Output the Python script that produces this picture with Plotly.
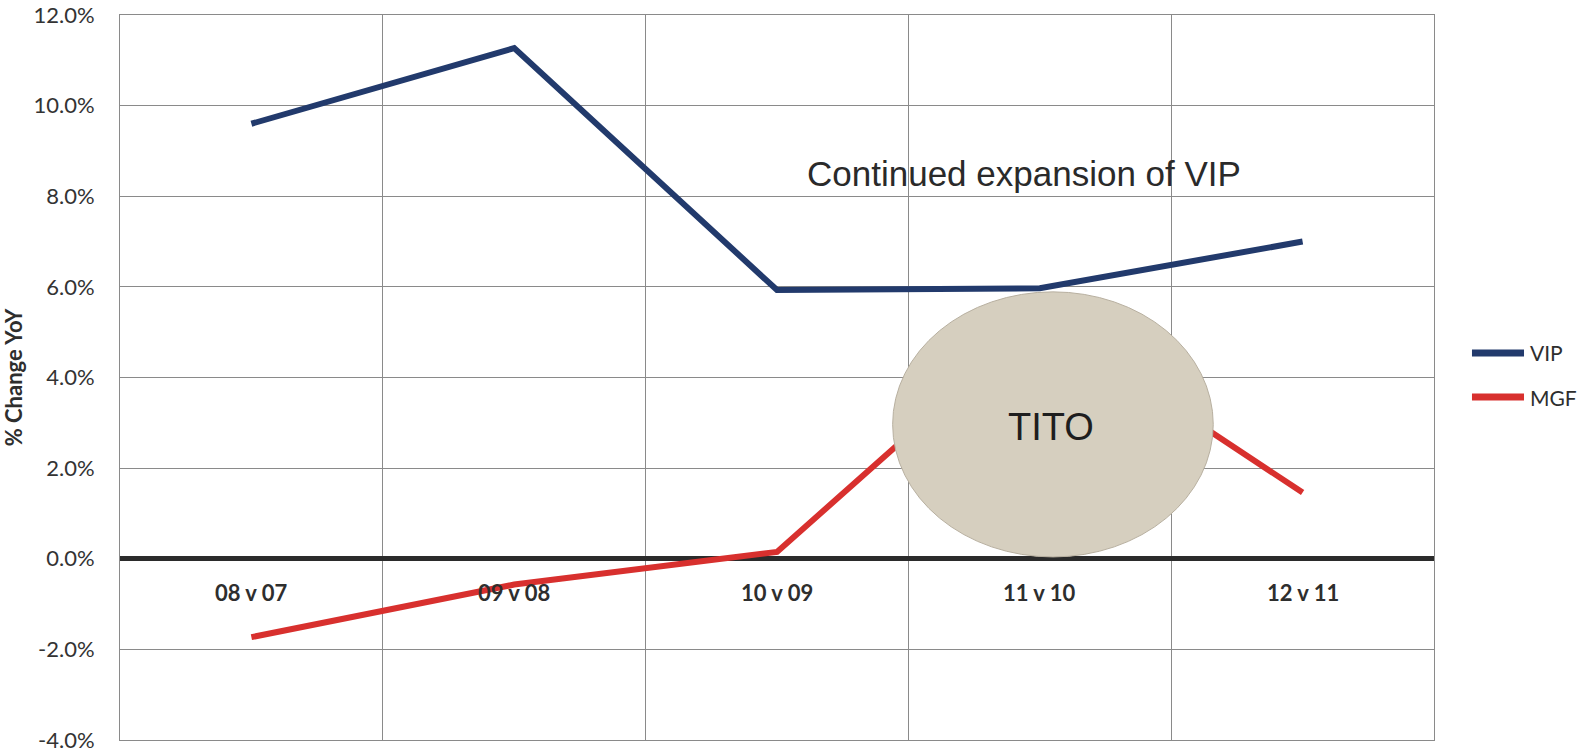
import plotly.graph_objects as go

# Year-over-year change by period
periods = ["08 v 07", "09 v 08", "10 v 09", "11 v 10", "12 v 11"]
vip = [9.6, 11.27, 5.93, 5.97, 7.0]
mgf = [-1.73, -0.57, 0.15, 5.3, 1.46]
y_ticks = [-4, -2, 0, 2, 4, 6, 8, 10, 12]

VIP_COLOR = "#223a6c"
MGF_COLOR = "#d8302e"
GRID = "#8a8a8a"
TEXT = "#2e2e2e"
TICK_FONT = dict(family="Lato", size=22, color="#333333")

series = [("VIP", vip, VIP_COLOR), ("MGF", mgf, MGF_COLOR)]

fig = go.Figure()
for name, values, color in series:
    fig.add_trace(go.Scatter(x=periods, y=values, name=name, mode="lines",
                             line=dict(color=color, width=6),
                             showlegend=False))

# category labels sit just under the zero line
for p in periods:
    fig.add_annotation(x=p, y=0, xref="x", yref="y", text=f"<b>{p}</b>",
                       showarrow=False, yanchor="top", yshift=-18,
                       font=dict(family="Lato", size=22, color=TEXT))

# TITO bubble
fig.add_shape(type="circle", xref="x", yref="y",
              x0=2.44, x1=3.66, y0=0.04, y1=5.89,
              fillcolor="#d6cfbf", line=dict(color="#b8b0a0", width=1),
              layer="above")
fig.add_annotation(x=3.043, y=2.9, xref="x", yref="y", text="TITO",
                   showarrow=False,
                   font=dict(family="Liberation Sans", size=38, color="#1e1e1e"))
fig.add_annotation(x=2.94, y=8.5, xref="x", yref="y",
                   text="Continued expansion of VIP", showarrow=False,
                   font=dict(family="Liberation Sans", size=35, color="#2a2a2a"))

# legend to the right of the plot, centred on the plot height
legend_rows = [0.5338, 0.4731]
for (name, _, color), ly in zip(series, legend_rows):
    fig.add_shape(type="line", xref="paper", yref="paper",
                  x0=1.0289, x1=1.0685, y0=ly, y1=ly,
                  line=dict(color=color, width=7))
    fig.add_annotation(x=1.0715, y=ly, xref="paper", yref="paper", text=name,
                       showarrow=False, xanchor="left", yanchor="middle",
                       font=dict(family="Lato", size=21, color=TEXT))

fig.update_xaxes(type="category", range=[-0.5, 4.5], tickson="boundaries",
                 showgrid=True, gridcolor=GRID, gridwidth=1,
                 showticklabels=False, ticks="", automargin=False,
                 showline=True, linecolor=GRID, linewidth=1, mirror=True,
                 zeroline=False)
fig.update_yaxes(range=[-4, 12], tickvals=y_ticks,
                 ticktext=[f"{v:.1f}%" for v in y_ticks],
                 tickfont=TICK_FONT, ticks="", ticklabelstandoff=20,
                 ticklabeloverflow="allow", automargin=False,
                 showgrid=True, gridcolor=GRID, gridwidth=1,
                 showline=True, linecolor=GRID, linewidth=1, mirror=True,
                 zeroline=True, zerolinecolor="#2b2b2b", zerolinewidth=5,
                 title=dict(text="<b>% Change YoY</b>", standoff=10,
                            font=dict(family="Lato", size=22, color=TEXT)))

fig.update_layout(
    width=1584, height=755,
    margin=dict(l=120, r=150, t=15, b=15),
    paper_bgcolor="white", plot_bgcolor="white",
    showlegend=False,
)

fig.write_html("out.html")
